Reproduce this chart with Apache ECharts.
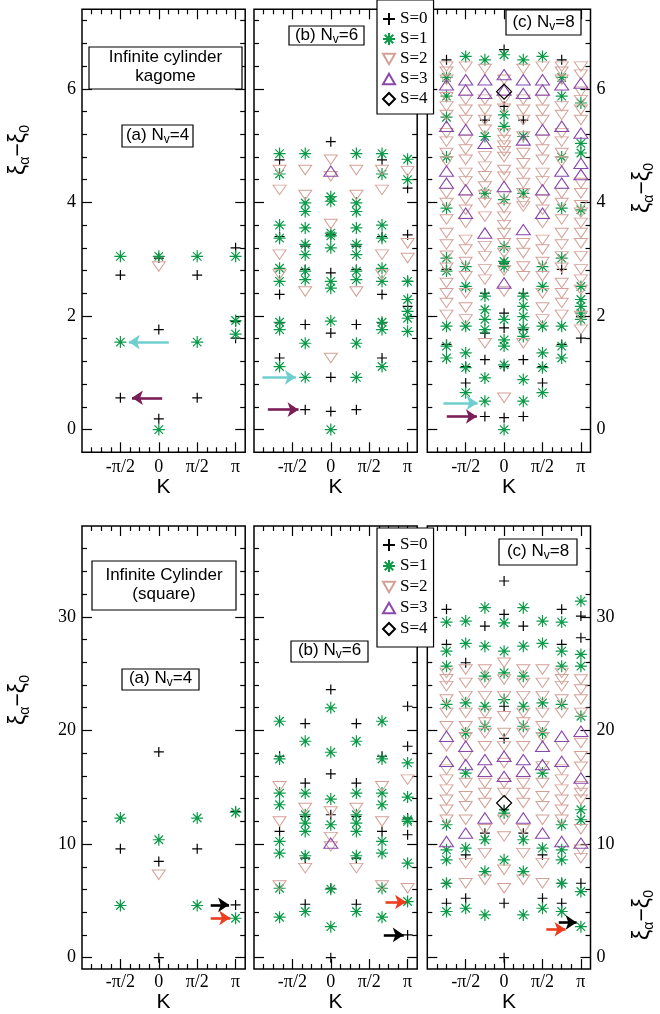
<!DOCTYPE html>
<html><head><meta charset="utf-8">
<script src="https://cdn.jsdelivr.net/npm/echarts@6/dist/echarts.min.js"></script>
<style>html,body{margin:0;padding:0;background:#fff}#c{width:660px;height:1014px}</style>
</head><body><div id="c"></div>
<script>
// ---------- DATA (x = K/π, y = ξα − ξ0) ----------
const xTickVals = [-0.5, 0, 0.5, 1];
const xTickLabels = ['-π/2', '0', 'π/2', 'π'];
const topYTicks = [0, 2, 4, 6];
const botYTicks = [0, 10, 20, 30];
const spinNames = ['S=0', 'S=1', 'S=2', 'S=3', 'S=4'];

// Top row: kagome
const topA_S0 = [[-0.5,[2.72,0.56]],[0,[3.02,1.76,0.19]],[0.5,[2.72,0.56]],[1,[3.2,1.9,1.61]]];
const topA_S1 = [[-0.5,[3.05,1.54]],[0,[3.05,0]],[0.5,[3.05,1.54]],[1,[3.05,1.92,1.68]]];
const topA_S2 = [[0,[2.87]]];
const topA_S3 = [];
const topA_S4 = [];

const topB_S0 = [[-0.667,[4.75,3.40,2.38,1.88,1.26]],[-0.333,[3.23,2.82,1.85,0.35]],[0,[5.07,3.43,2.76,1.70,0.92,0.32]],
  [0.333,[3.23,2.82,1.85,0.35]],[0.667,[4.75,3.40,2.38,1.88,1.26]],[1,[4.25,3.43,2.61,2.17]]];
const topB_S1 = [[-0.667,[4.86,4.50,3.60,3.37,2.84,2.61,1.89,1.76,1.11]],[-0.333,[4.86,3.99,3.84,3.55,3.26,3.08,2.79,2.64,1.52,0.92]],
  [0,[4.10,4.02,3.46,3.41,3.20,2.61,2.49,1.91,0]],[0.333,[4.86,3.99,3.84,3.55,3.26,3.08,2.79,2.64,1.52,0.92]],
  [0.667,[4.86,4.50,3.60,3.37,2.84,2.61,1.89,1.76,1.11]],[1,[4.76,4.40,2.61,2.29,2.08,1.96,1.73]]];
const topB_S2 = [[-0.667,[4.57,4.22,3.08,2.73]],[-0.333,[4.57,4.13,2.43]],[0,[4.75,4.46,3.62,1.26]],
  [0.333,[4.57,4.13,2.43]],[0.667,[4.57,4.22,3.08,2.73]],[1,[4.55,3.28,3.02]]];
const topB_S3 = [[0,[4.55]]];
const topB_S4 = [];

const topC_S0 = [[-0.75,[6.51,2.82,1.50]],[-0.5,[1.11,0.82]],[-0.25,[5.45,2.40,1.70,1.23,0.23]],
  [0,[6.69,5.69,2.93,2.05,1.79,1.11,0.21]],[0.25,[5.45,2.40,1.76,1.23,0.23]],[0.5,[1.11,0.82]],
  [0.75,[6.51,2.82,1.50]],[1,[1.99,1.61]]];
const topC_S1 = [[-0.75,[6.2,5.87,5.5,4.8,3.90,3.02,2.79,1.82,1.47,1.26]],[-0.5,[6.57,2.87,2.52,1.82,1.35,1.09,0.65]],
  [-0.25,[6.51,5.16,4.16,2.35,2.11,1.94,1.76,0.91,0.50]],[0,[6.60,5.54,5.34,4.05,3.22,2.96,2.87,1.94,1.58,1.47,1.14,0]],
  [0.25,[6.51,5.16,4.16,2.35,2.17,1.99,1.79,1.64,0.88,0.50]],[0.5,[6.57,2.87,2.52,1.82,1.35,1.09,0.65]],
  [0.75,[6.2,5.87,4.8,3.90,3.02,1.82,1.47,1.26]],[1,[5.75,5.04,4.87,3.87,2.52,2.29,2.17,2.05,1.94]]];
const topC_S2 = [[-0.75,[6.39,6.30,6.16,5.85,5.69,5.54,5.22,5.07,4.87,4.72,4.16,3.99,3.70,3.46,3.26,3.06,2.85,2.58,2.40,2.23,2.02]],
  [-0.5,[6.39,5.81,5.63,5.45,5.10,4.93,4.75,4.52,4.37,4.05,3.87,3.64,3.34,3.17,2.95,2.70,2.40,2.15,1.94]],
  [-0.25,[6.35,5.81,5.63,5.45,5.28,4.81,4.63,4.46,4.28,4.13,3.99,3.75,3.23,3.05,2.82,2.64,1.52]],
  [0,[6.16,5.81,5.65,5.22,5.10,5.00,4.90,4.80,4.57,4.45,4.11,3.90,3.75,3.60,3.46,3.28,3.11,2.80,2.43,0.56]],
  [0.25,[6.35,5.81,5.63,5.45,5.16,4.87,4.69,4.52,4.34,4.16,4.00,3.93,3.28,3.11,2.87,2.70,1.52]],
  [0.5,[6.39,5.81,5.63,5.45,5.10,4.93,4.75,4.52,4.37,4.05,3.87,3.64,3.34,3.17,2.95,2.70,2.40,2.15,1.94]],
  [0.75,[6.39,6.30,6.16,5.69,5.54,5.22,5.07,4.87,4.72,4.16,3.99,3.70,3.46,3.26,3.05,2.85,2.58,2.40,2.23,2.02]],
  [1,[6.39,6.25,5.95,5.80,5.63,5.45,4.34,4.16,3.95,3.82,3.64,3.46,3.28,3.05,2.82,2.64,2.46,2.00,1.76]]];
const topC_S3 = [[-0.75,[6.07,5.34,4.55,4.34]],[-0.5,[6.16,5.98,5.28,4.22,3.81]],[-0.25,[6.16,5.92,5.04,3.46]],
  [0,[6.25,5.98,4.28,2.58]],[0.25,[6.16,5.92,5.10,3.52]],[0.5,[6.16,5.98,5.28,4.22,3.81]],
  [0.75,[6.07,5.34,4.55,4.34]],[1,[6.10,5.22,4.69,4.49]]];
const topC_S4 = [[0,[5.95]]];

// Bottom row: square lattice
const botA_S0 = [[-0.5,[9.58]],[0,[18.11,8.47,0]],[0.5,[9.58]],[1,[12.87,4.64]]];
const botA_S1 = [[-0.5,[12.29,4.59]],[0,[10.38]],[0.5,[12.29,4.59]],[1,[12.8,3.47]]];
const botA_S2 = [[0,[7.29]]];
const botA_S3 = [];
const botA_S4 = [];

const botB_S0 = [[-0.667,[17.73,11.11]],[-0.333,[20.61,15.37,12.43,8.76,4.70]],[0,[23.60,16.17,12.58,6.11,0]],
  [0.333,[20.61,15.37,12.43,8.76,4.70]],[0.667,[17.73,11.11]],[1,[22.13,18.61,12.29,10.82,2.00]]];
const botB_S1 = [[-0.667,[20.81,17.49,14.49,13.46,10.23,9.20,6.11,3.56]],[-0.333,[19.05,14.49,12.58,11.85,11.11,8.97,4.06]],
  [0,[21.99,18.08,13.96,11.70,6.03,2.73]],[0.333,[19.05,14.49,12.58,11.85,11.11,8.97,4.06]],
  [0.667,[20.81,17.49,14.49,13.46,10.23,9.20,6.11,3.56]],[1,[17.14,14.14,12.14,11.99,8.32,4.94]]];
const botB_S2 = [[-0.667,[15.08,11.99,6.35]],[-0.333,[13.17,7.88]],[0,[12.87,10.61,9.79]],
  [0.333,[13.17,7.88]],[0.667,[15.08,11.99,6.35]],[1,[15.67,6.11]]];
const botB_S3 = [[0,[10.08]]];
const botB_S4 = [];

const botC_S0 = [[-0.75,[30.66,27.57,6.55,4.79]],[-0.5,[25.96,9.05,5.23]],[-0.25,[29.19,10.96]],
  [0,[33.16,30.22,22.13,19.3,13.02,4.79,0]],[0.25,[29.19,10.96]],[0.5,[9.05,5.23]],
  [0.75,[30.66,27.57,6.55,4.79]],[1,[30.07,28.16,6.55]]];
const botC_S1 = [[-0.75,[29.54,26.98,25.66,22.3,11.70,9.49,8.61,6.55,4.06]],[-0.5,[29.63,27.66,22.43,19.78,16.25,9.64,4.35]],
  [-0.25,[30.81,27.42,24.78,22.13,20.37,10.38,7.58,3.76]],[0,[29.48,26.98,25.07,22.72,12.73,8.61]],
  [0.25,[30.81,27.42,24.78,22.13,20.37,10.38,7.58,3.76]],[0.5,[29.63,27.66,22.43,19.78,16.25,9.64,4.35]],
  [0.75,[29.54,26.98,25.66,22.3,11.70,9.49,8.61,6.55,4.06]],[1,[31.39,26.69,25.66,21.25,13.02,12.14,5.82,2.73]]];
const botC_S2 = [[-0.75,[25.07,24.5,23.90,22.72,21.55,20.37,18.61,16.55,15.67,14.79,13.90,13.02,12.14]],
  [-0.5,[25.37,24.19,23.02,21.55,20.37,19.40,17.73,15.37,14.20,13.32,12.14,8.32,6.55]],
  [-0.25,[25.37,24.19,23.02,21.55,20.70,19.78,18.61,15.37,14.49,13.61,11.30,9.20,6.85]],
  [0,[25.96,24.49,23.02,21.25,19.78,18.60,17.14,15.37,14.50,12.14,10.67,7.73,6.11]],
  [0.25,[25.37,24.19,23.02,21.55,20.70,19.78,18.61,15.37,14.49,13.61,11.30,9.20,6.85]],
  [0.5,[25.37,24.19,23.02,21.55,20.37,19.40,16.84,15.37,14.20,13.32,12.14,8.32,6.55]],
  [0.75,[25.07,24.5,23.90,22.72,21.55,18.61,16.55,15.67,14.79,13.90,13.02,12.14]],
  [1,[24.49,23.60,22.72,21.55,18.90,17.73,16.80,15.08,14.50,13.90,11.30,9.49,8.76]]];
const botC_S3 = [[-0.75,[19.49,17.28,10.23]],[-0.5,[18.61,16.99,10.96]],[-0.25,[17.43,16.40,12.29]],[0,[17.73,15.96]],
  [0.25,[17.43,16.40,12.29]],[0.5,[18.61,16.99,10.96]],[0.75,[19.49,17.28,10.23]],[1,[19.93,15.81,10.08]]];
const botC_S4 = [[0,[13.61]]];

// arrows: [from, to] in data coordinates
const topA_arrows = [[[0.13,1.54],[-0.39,1.54]], [[0.044,0.56],[-0.35,0.56]]];
const topB_arrows = [[[-0.89,0.92],[-0.455,0.92]], [[-0.82,0.35],[-0.42,0.35]]];
const topC_arrows = [[[-0.79,0.47],[-0.346,0.47]], [[-0.746,0.23],[-0.354,0.23]]];
const botA_arrows = [[[0.676,4.65],[0.915,4.65]], [[0.676,3.5],[0.93,3.5]]];
const botB_arrows = [[[0.69,2.0],[0.95,2.0]], [[0.712,4.9],[0.98,4.9]]];
const botC_arrows = [[[0.712,3.1],[0.944,3.1]], [[0.55,2.5],[0.8,2.5]]];

// ---------- STYLE / LAYOUT ----------
const SERIF = '"Liberation Serif","DejaVu Serif",serif';
const SANS = '"Liberation Sans",Arial,Helvetica,sans-serif';
const SYM = [
  'path://M0,5L10,5M5,0L5,10',
  'path://M5,0L5,10M0,5L10,5M1.46,1.46L8.54,8.54M1.46,8.54L8.54,1.46',
  'path://M0,0L10,0L5,8.66Z',
  'path://M5,0L10,8.66L0,8.66Z',
  'path://M5,0L10,5L5,10L0,5Z'
];
const SIZE = [10, 12, [13, 11], [14, 12], 15];
const COL = ['#000000', '#0b9a48', '#d3a197', '#8a48ab', '#000000'];
const BW = [1.2, 1.2, 1, 1.1, 1.2];
const topArrowCol = ['#6fcfcf', '#7b1d57'];
const botArrowCol = ['#000000', '#ec3d1e'];

const colLeft = [82, 254, 427.3];
const gridW = 163.2;
const rowTop = [9.3, 526];
const gridH = 443;
const yRange = [[-0.4, 7.4], [-1, 38]];
const xMinor = [-0.875,-0.75,-0.625,-0.375,-0.25,-0.125,0.125,0.25,0.375,0.625,0.75,0.875];
const topYMinor = [0.4,0.8,1.2,1.6,2.4,2.8,3.2,3.6,4.4,4.8,5.2,5.6,6.4,6.8,7.2];
const botYMinor = [2,4,6,8,12,14,16,18,22,24,26,28,32,34,36];

const panels = [
  {row:0,col:0,S:[topA_S0,topA_S1,topA_S2,topA_S3,topA_S4],arrows:topA_arrows},
  {row:0,col:1,S:[topB_S0,topB_S1,topB_S2,topB_S3,topB_S4],arrows:topB_arrows},
  {row:0,col:2,S:[topC_S0,topC_S1,topC_S2,topC_S3,topC_S4],arrows:topC_arrows},
  {row:1,col:0,S:[botA_S0,botA_S1,botA_S2,botA_S3,botA_S4],arrows:botA_arrows},
  {row:1,col:1,S:[botB_S0,botB_S1,botB_S2,botB_S3,botB_S4],arrows:botB_arrows},
  {row:1,col:2,S:[botC_S0,botC_S1,botC_S2,botC_S3,botC_S4],arrows:botC_arrows}
];

function expand(groups){ const o=[]; groups.forEach(g=>g[1].forEach(y=>o.push([g[0],y]))); return o; }

const grid=[], xAxis=[], yAxis=[], series=[];
const tickLS = {color:'#000', width:1.2};
panels.forEach((p,g)=>{
  grid.push({left:colLeft[p.col], top:rowTop[p.row], width:gridW, height:gridH, show:true,
    borderColor:'#000', borderWidth:1.5, backgroundColor:'transparent', containLabel:false});
  const xb = {gridIndex:g, type:'value', min:-1, max:1.125, axisLine:{show:false,onZero:false}, splitLine:{show:false}};
  xAxis.push(Object.assign({}, xb, {position:'bottom',
    axisTick:{inside:true,length:10,customValues:xTickVals,lineStyle:tickLS},
    axisLabel:{customValues:xTickVals, formatter:v=>xTickLabels[xTickVals.indexOf(v)], margin:p.row===0?6:4,
      color:'#000', fontFamily:SERIF, fontSize:18},
    name:'K', nameLocation:'middle', nameGap:p.row===0?22:15,
    nameTextStyle:{fontFamily:SANS, fontSize:21, color:'#000'}}));
  xAxis.push(Object.assign({}, xb, {position:'bottom', axisTick:{inside:true,length:5,customValues:xMinor,lineStyle:tickLS}, axisLabel:{show:false}}));
  xAxis.push(Object.assign({}, xb, {position:'top', axisTick:{inside:true,length:10,customValues:xTickVals,lineStyle:tickLS}, axisLabel:{show:false}}));
  xAxis.push(Object.assign({}, xb, {position:'top', axisTick:{inside:true,length:5,customValues:xMinor,lineStyle:tickLS}, axisLabel:{show:false}}));
  const yt = p.row===0?topYTicks:botYTicks, ym = p.row===0?topYMinor:botYMinor;
  const yb = {gridIndex:g, type:'value', min:yRange[p.row][0], max:yRange[p.row][1], axisLine:{show:false,onZero:false}, splitLine:{show:false}};
  const lbl = {customValues:yt, margin:6, color:'#000', fontFamily:SERIF, fontSize:18};
  yAxis.push(Object.assign({}, yb, {position:'left', axisTick:{inside:true,length:10,customValues:yt,lineStyle:tickLS},
    axisLabel:p.col===0?lbl:{show:false}}));
  yAxis.push(Object.assign({}, yb, {position:'left', axisTick:{inside:true,length:5,customValues:ym,lineStyle:tickLS}, axisLabel:{show:false}}));
  yAxis.push(Object.assign({}, yb, {position:'right', axisTick:{inside:true,length:10,customValues:yt,lineStyle:tickLS},
    axisLabel:p.col===2?lbl:{show:false}}));
  yAxis.push(Object.assign({}, yb, {position:'right', axisTick:{inside:true,length:5,customValues:ym,lineStyle:tickLS}, axisLabel:{show:false}}));

  p.S.forEach((arr,k)=>{
    const s = {type:'scatter', name:spinNames[k], xAxisIndex:4*g, yAxisIndex:4*g, data:expand(arr),
      symbol:SYM[k], symbolSize:SIZE[k], symbolKeepAspect:true, silent:true, z:2+k,
      itemStyle:{color:'rgba(0,0,0,0)', borderColor:COL[k], borderWidth:BW[k], opacity:1},
      emphasis:{disabled:true}};
    if(k===0){
      const cols = p.row===0?topArrowCol:botArrowCol;
      s.markLine = {silent:true, symbol:['none','arrow'], symbolSize:[11,11], animation:false, label:{show:false},
        data:p.arrows.map((a,i)=>[
          {coord:a[0], lineStyle:{color:cols[i], width:2.6, type:'solid'}},
          {coord:a[1], lineStyle:{color:cols[i], width:2.6, type:'solid'}}
        ])};
    }
    series.push(s);
  });
});

function box(x,y,w,h){ return {type:'rect', shape:{x:x,y:y,width:w,height:h}, style:{fill:'#fff',stroke:'#000',lineWidth:1.2}, z:50}; }
function txt(t,x,y){ return {type:'text', x:x, y:y, z:51, style:{text:t, fill:'#000', font:'17px '+SANS, align:'center', verticalAlign:'middle', lineHeight:19}}; }
function nv(letter,num,x,y){ return {type:'text', x:x, y:y, z:51, style:{text:'('+letter+') N{v|v}=' + num, fill:'#000',
  font:'17px '+SANS, align:'center', verticalAlign:'middle',
  rich:{v:{fontSize:12, fontFamily:SANS, fill:'#000', padding:[9,0,0,0], verticalAlign:'bottom'}}}}; }
function ytitle(x,y){ return {type:'text', x:x, y:y, rotation:Math.PI/2, z:51, style:{text:'{m|ξ}{s|α}{m|−ξ}{s|0}', align:'center', verticalAlign:'middle',
  rich:{m:{fontSize:23, fontFamily:SANS, fill:'#000', lineHeight:26}, s:{fontSize:14, fontFamily:SANS, fill:'#000', padding:[12,0,0,0], verticalAlign:'bottom'}}}}; }

const graphic = [
  box(89,47,153,42), txt('Infinite cylinder\nkagome',165.5,67),
  box(122,125,71,22), nv('a',4,157.5,135),
  box(289,26,75,19), nv('b',6,326.5,35),
  box(506,10,75,25), nv('c',8,543.5,22),
  box(92,561,144,49), txt('Infinite Cylinder\n(square)',164,585),
  box(122,669,77,21), nv('a',4,160.5,678.5),
  box(291,641,77,21), nv('b',6,329.5,650.5),
  box(499,539,78,26), nv('c',8,538,551),
  ytitle(19,150), ytitle(643,188), ytitle(19,700), ytitle(643,915)
];

const legBase = {orient:'vertical', left:377, data:spinNames, itemWidth:12, itemHeight:20, selectedMode:false,
  backgroundColor:'#fff', borderColor:'#000', borderWidth:1.2, borderRadius:0, z:40,
  textStyle:{fontFamily:SERIF, fontSize:17, color:'#000', lineHeight:20}};
const legend = [
  Object.assign({}, legBase, {top:0, itemGap:0, padding:[9,6,5,5]}),
  Object.assign({}, legBase, {top:528, itemGap:1, padding:[7,6,8,5]})
];

const chart = echarts.init(document.getElementById('c'), null, {renderer:'canvas'});
chart.setOption({animation:false, backgroundColor:'#fff', grid, xAxis, yAxis, series, legend, graphic});
</script></body></html>
